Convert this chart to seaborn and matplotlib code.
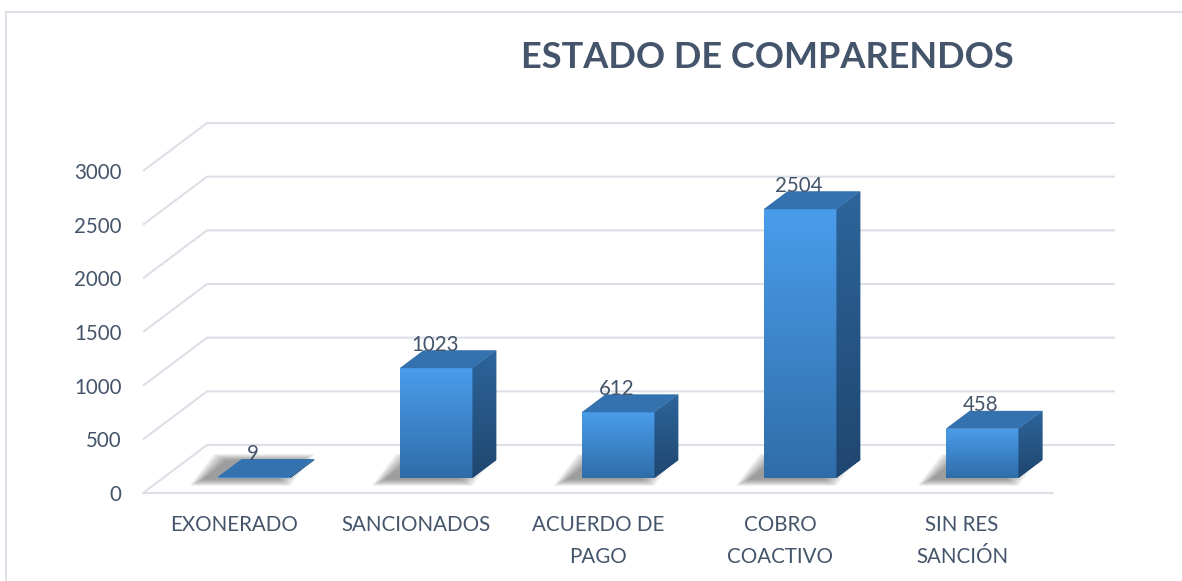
import numpy as np
import pandas as pd
import matplotlib
matplotlib.use("Agg")
import matplotlib.pyplot as plt
import seaborn as sns
import matplotlib.transforms as mtransforms
from matplotlib.patches import Polygon, Rectangle
from matplotlib.lines import Line2D
from matplotlib.colors import LinearSegmentedColormap

# ---------------- data ----------------
categories = ["EXONERADO", "SANCIONADOS", "ACUERDO DE\nPAGO", "COBRO\nCOACTIVO", "SIN RES\nSANCIÓN"]
values = [9, 1023, 612, 2504, 458]
y_ticks = [0, 500, 1000, 1500, 2000, 2500, 3000]
title = "ESTADO DE COMPARENDOS"

# ---------------- style ----------------
W, H, DPI = 1182, 581, 100
sns.set_theme(style="white")
plt.rcParams["font.family"] = ["Lato", "DejaVu Sans"]
TXT = "#44546A"
GRID = "#DCDFE6"

fig = plt.figure(figsize=(W / DPI, H / DPI), dpi=DPI)
fig.patch.set_facecolor("white")

# front edge of floor (pixels from top)
FX0, FX1, FY0, FYTOP = 143, 1053, 493, 171
DEPTH = (64, 48)        # floor depth offset in pixels (x right, y up)
BAR_OFF = (20, 15)      # front face of bars inside the floor
BAR_D = (24, 18)        # bar depth

ax = fig.add_axes([FX0 / W, (H - FY0) / H, (FX1 - FX0) / W, (FY0 - FYTOP) / H])
df = pd.DataFrame({"cat": categories, "val": values})
sns.barplot(data=df, x="cat", y="val", width=0.4, color="#3A82C8",
            saturation=1, ax=ax, zorder=3)
ax.set_xlim(-0.5, 4.5)
ax.set_ylim(0, 3000)
ax.set_facecolor("none")
for s in ax.spines.values():
    s.set_visible(False)
ax.grid(False)
ax.set_xlabel("")
ax.set_ylabel("")
ax.set_yticks(y_ticks)
ax.set_yticklabels([str(v) for v in y_ticks])
ax.tick_params(axis="y", length=0, pad=15.5, labelsize=14.8, labelcolor=TXT)
ax.tick_params(axis="x", length=0, pad=15.8, labelsize=14.8, labelcolor=TXT)
for lab in ax.get_xticklabels():
    lab.set_linespacing(1.78)
    lab.set_multialignment("center")


def D(x, y):
    return np.array(ax.transData.transform((x, y)))


inv = ax.transData.inverted()


def to_data(pts):
    return inv.transform(np.array(pts))


# ---------------- walls / gridlines ----------------
dd = np.array(DEPTH)
for v in y_ticks:
    pf = D(-0.5, v)
    pb = pf + dd
    pr = D(4.5, v) + dd + np.array([-2, 0])
    seg = to_data([pf, pb, pr])
    ax.add_line(Line2D(seg[:, 0], seg[:, 1], color=GRID, lw=1.5,
                       clip_on=False, zorder=0.5, solid_capstyle="butt"))
seg = to_data([D(-0.5, 0), D(4.5, 0)])
ax.add_line(Line2D(seg[:, 0], seg[:, 1], color=GRID, lw=1.5, clip_on=False, zorder=0.5))

# ---------------- 3D bars ----------------
front_cmap = LinearSegmentedColormap.from_list("f", ["#2F6DA9", "#4A9DEB"])
side_cmap = LinearSegmentedColormap.from_list("s", ["#1F466F", "#2D659B"])
grad = np.linspace(0, 1, 256).reshape(-1, 1)
bo = np.array(BAR_OFF)
bd = np.array(BAR_D)
off_tr = mtransforms.offset_copy(ax.transData, fig, x=BAR_OFF[0], y=BAR_OFF[1], units="dots")

bars = list(ax.patches)
for p, val in zip(bars, values):
    x0, w, h = p.get_x(), p.get_width(), p.get_height()
    fl = D(x0, 0) + bo
    fr = D(x0 + w, 0) + bo
    tl = D(x0, h) + bo
    tr = D(x0 + w, h) + bo

    # shadow on the floor
    sh = np.array([-14, -1])
    foot = [fl + sh, fr + sh, fr + bd + sh, fl + bd + sh]
    for k in range(9):
        e = 1.0 + k * 1.6
        exp = [foot[0] + [-e, -e * 0.5], foot[1] + [e, -e * 0.5],
               foot[2] + [e, e * 0.5], foot[3] + [-e, e * 0.5]]
        ax.add_patch(Polygon(to_data(exp), closed=True, facecolor="#3A3A3A",
                             edgecolor="none", alpha=0.07, clip_on=False, zorder=1))

    # front face (seaborn bar, shifted into the floor) with gradient
    p.set_transform(off_tr)
    p.set_clip_on(False)
    p.set_edgecolor("none")
    fd = to_data([fl, tr])
    if h > 0:
        im = ax.imshow(grad, extent=[fd[0, 0], fd[1, 0], fd[0, 1], fd[1, 1]],
                       origin="lower", cmap=front_cmap, aspect="auto", zorder=3.1)
        im.set_clip_path(p)

    # side face
    side = Polygon(to_data([fr, tr, tr + bd, fr + bd]), closed=True,
                   facecolor="#27598A", edgecolor="none", clip_on=False, zorder=3)
    ax.add_patch(side)
    sd = to_data([fr, tr + bd])
    im2 = ax.imshow(grad, extent=[sd[0, 0], sd[1, 0], sd[0, 1], sd[1, 1]],
                    origin="lower", cmap=side_cmap, aspect="auto", zorder=3.1)
    im2.set_clip_path(side)

    # top face
    ax.add_patch(Polygon(to_data([tl, tr, tr + bd, tl + bd]), closed=True,
                         facecolor="#3471AF", edgecolor="none", clip_on=False, zorder=3.2))

    # value label
    lab_tr = mtransforms.offset_copy(ax.transData, fig, x=BAR_OFF[0] - 1,
                                     y=BAR_OFF[1] + 17.5, units="dots")
    ax.text(x0 + w / 2, h, str(val), transform=lab_tr, ha="center", va="baseline",
            fontsize=14.8, color=TXT, zorder=5, clip_on=False)

ax.set_xlim(-0.5, 4.5)
ax.set_ylim(0, 3000)

# ---------------- title & border ----------------
fig.text(767 / W, 1 - 58 / H, title, ha="center", va="center", fontsize=26,
         fontweight="bold", color=TXT)
fig.add_artist(Rectangle((5.5 / W, -0.2), 1.5, 1.2 - 11.5 / H, transform=fig.transFigure,
                         fill=False, edgecolor="#DDE1E8", lw=1.5))

fig.savefig("out.png", dpi=DPI, facecolor="white")
